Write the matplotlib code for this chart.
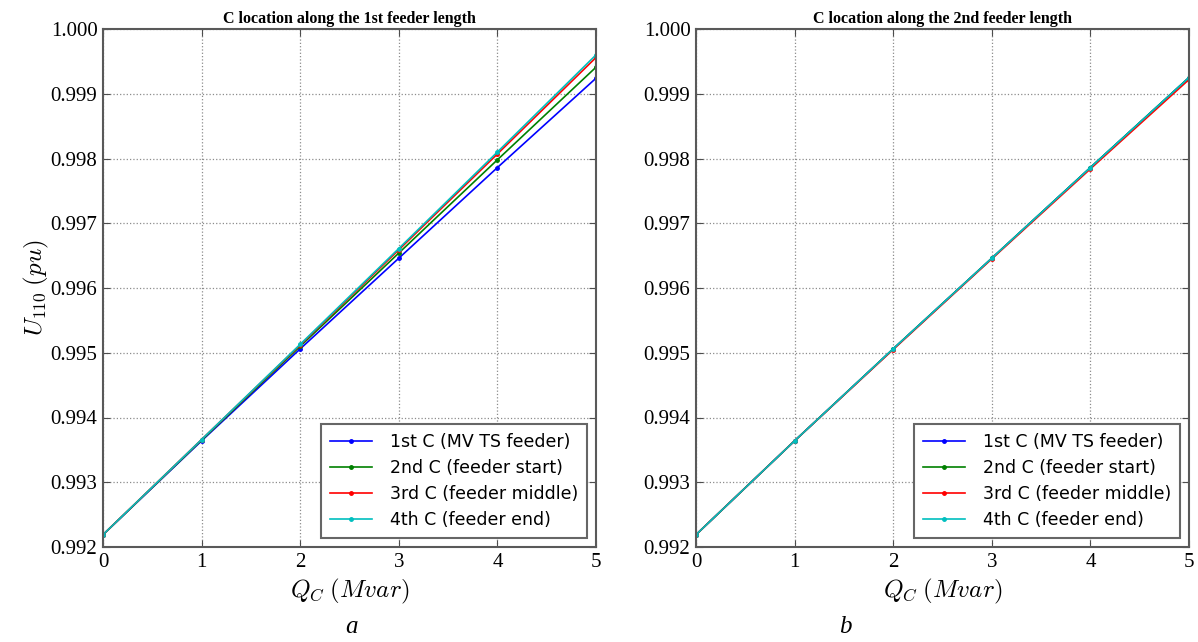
import matplotlib
matplotlib.use("Agg")
import matplotlib.pyplot as plt

q = [0, 1, 2, 3, 4, 5]
labels = ["1st C (MV TS feeder)", "2nd C (feeder start)",
          "3rd C (feeder middle)", "4th C (feeder end)"]
colors = ["b", "g", "r", "c"]

# feeder 1
u1_c1 = [0.99219, 0.99364, 0.99506, 0.99646, 0.99786, 0.99924]
u1_c2 = [0.99219, 0.99365, 0.99510, 0.99654, 0.99798, 0.99941]
u1_c3 = [0.99219, 0.99366, 0.99512, 0.99659, 0.99807, 0.99956]
u1_c4 = [0.99219, 0.99366, 0.99513, 0.99661, 0.99810, 0.99960]

# feeder 2
u2_c1 = [0.99219, 0.99364, 0.99506, 0.99646, 0.99786, 0.99925]
u2_c2 = [0.99219, 0.99364, 0.99506, 0.99646, 0.99786, 0.99925]
u2_c3 = [0.99219, 0.99364, 0.99505, 0.99645, 0.99784, 0.99922]
u2_c4 = [0.99219, 0.99364, 0.99506, 0.99646, 0.99786, 0.99925]

titles = ["C location along the 1st feeder length",
          "C location along the 2nd feeder length"]

plt.rcParams["mathtext.fontset"] = "cm"

fig = plt.figure(figsize=(11.98, 6.42), dpi=100)
ax1 = fig.add_axes([103 / 1198, 1 - 547 / 642, 493 / 1198, 518 / 642])
ax2 = fig.add_axes([696 / 1198, 1 - 547 / 642, 493 / 1198, 518 / 642])

for ax, series, title in [(ax1, [u1_c1, u1_c2, u1_c3, u1_c4], titles[0]),
                          (ax2, [u2_c1, u2_c2, u2_c3, u2_c4], titles[1])]:
    for u, c, lab in zip(series, colors, labels):
        ax.plot(q, u, color=c, marker="o", markersize=2.5, lw=1.2, label=lab)
    ax.set_xlim(0, 5)
    ax.set_ylim(0.992, 1.000)
    ax.set_yticks([0.992 + 0.001 * i for i in range(9)])
    ax.set_yticklabels(["%.3f" % (0.992 + 0.001 * i) for i in range(9)])
    ax.grid(True, linestyle=":", color="0.55", lw=0.9)
    ax.tick_params(direction="in", top=True, right=True, length=5,
                   labelsize=15, color="0.3", pad=4)
    for lbl in ax.get_xticklabels() + ax.get_yticklabels():
        lbl.set_fontfamily("Liberation Serif")
    for s in ax.spines.values():
        s.set_color("0.35")
        s.set_linewidth(1.5)
    ax.set_title(title, fontsize=11.5, fontweight="bold",
                 family="Liberation Serif", pad=4)
    ax.set_xlabel(r"$Q_C\;(Mvar)$", fontsize=18, labelpad=4)
    leg = ax.legend(loc="lower right", fontsize=12.5, fancybox=False,
                    framealpha=1, edgecolor="0.4", borderpad=0.55,
                    handlelength=2.4, handletextpad=1.0,
                    labelspacing=0.45, borderaxespad=0.5)
    leg.get_frame().set_linewidth(1.5)

ax1.set_ylabel(r"$U_{110}\;(pu)$", fontsize=18, labelpad=0)

fig.text(351 / 1198, 1 - 627 / 642, "a", fontsize=18, style="italic",
         family="Liberation Serif", ha="center", va="center")
fig.text(845 / 1198, 1 - 627 / 642, "b", fontsize=18, style="italic",
         family="Liberation Serif", ha="center", va="center")

fig.savefig("out.png", dpi=100)
